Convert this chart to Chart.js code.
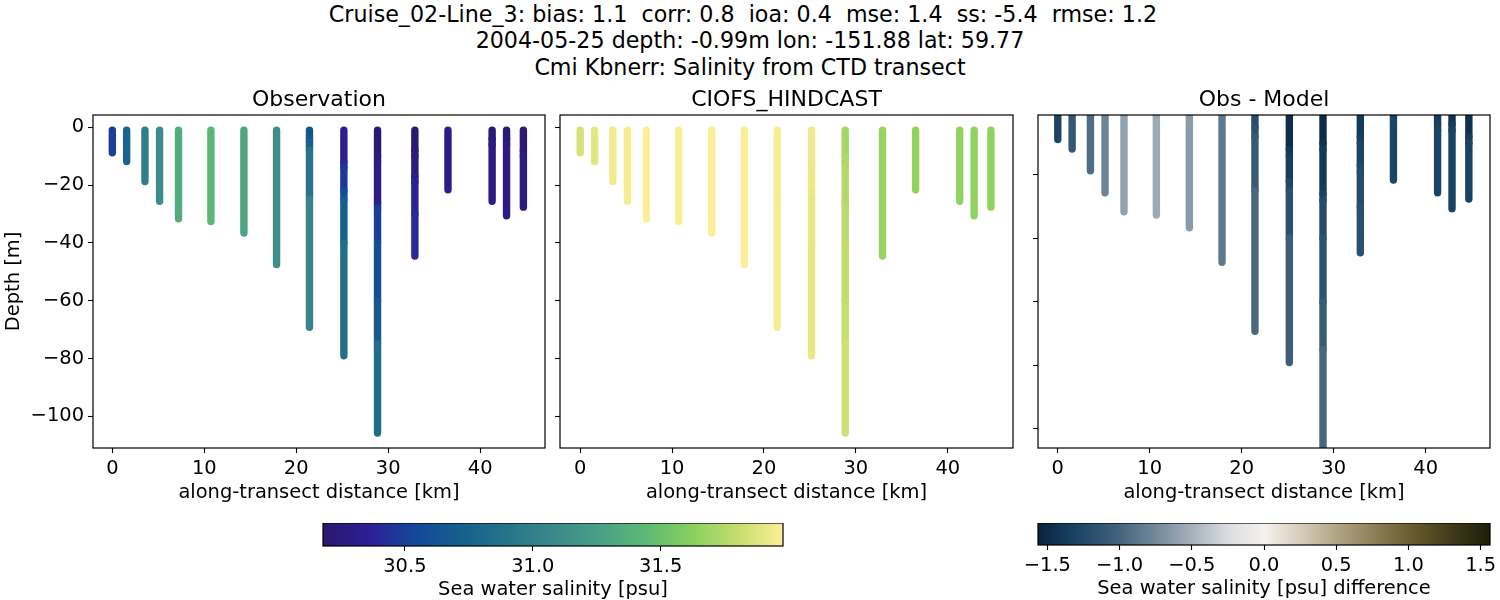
<!DOCTYPE html>
<html>
<head>
<meta charset="utf-8">
<script src="https://cdn.jsdelivr.net/npm/chart.js@4"></script>
<style>
  html, body { margin: 0; padding: 0; background: #fff; width: 1500px; height: 600px; overflow: hidden; }
  canvas { position: absolute; }
  .sup { position: absolute; left: 0; width: 1500px; text-align: center; white-space: pre;
         font: 22.2px "DejaVu Sans"; color: #000; line-height: 27px; }
</style>
</head>
<body>
<div class="sup" style="top:1px">Cruise_02-Line_3: bias: 1.1  corr: 0.8  ioa: 0.4  mse: 1.4  ss: -5.4  rmse: 1.2  </div>
<div class="sup" style="top:27px">2004-05-25 depth: -0.99m lon: -151.88 lat: 59.77</div>
<div class="sup" style="top:54px">Cmi Kbnerr: Salinity from CTD transect</div>
<canvas id="obsChart"></canvas>
<canvas id="modelChart"></canvas>
<canvas id="diffChart"></canvas>
<canvas id="salBar"></canvas>
<canvas id="diffBar"></canvas>
<script>
// along-transect position of each CTD cast [km]
var castKm = [0, 1.56, 3.55, 5.14, 7.2, 10.72, 14.31, 17.86, 21.44, 25.18, 28.84, 32.9, 36.5, 41.3, 42.87, 44.7];

var castDepths = [
    [-1, -8.8],
    [-1, -11.8],
    [-1, -18.7],
    [-1, -25.6],
    [-1, -31.6],
    [-1, -32.6],
    [-1, -36.6],
    [-1, -47.5],
    [-1, -5, -8, -25, -69.2],
    [-1, -12, -14, -22, -25, -40, -79.1],
    [-1, -10, -12, -26, -28, -40, -60, -75, -105.8],
    [-1, -8, -10, -17, -19, -30, -44.5],
    [-1, -21.6],
    [-1, -4, -6, -25.6],
    [-1, -4, -6, -30.6],
    [-1, -8, -10, -27.6]
];

var obsSalinity = [
    [30.48, 30.52],
    [30.74, 30.8],
    [30.97, 31.0],
    [31.08, 31.12],
    [31.34, 31.36],
    [31.42, 31.43],
    [31.29, 31.3],
    [31.12, 31.12],
    [30.62, 30.68, 30.8, 31.0, 31.08],
    [30.33, 30.33, 30.47, 30.47, 30.66, 30.78, 30.93],
    [30.2, 30.2, 30.28, 30.28, 30.42, 30.56, 30.62, 30.74, 30.92],
    [30.2, 30.2, 30.27, 30.27, 30.37, 30.38, 30.44],
    [30.28, 30.3],
    [30.2, 30.2, 30.28, 30.28],
    [30.2, 30.2, 30.26, 30.27],
    [30.22, 30.22, 30.27, 30.28]
];

var modelSalinity = [
    [31.85, 31.85],
    [31.89, 31.89],
    [31.94, 31.94],
    [31.95, 31.95],
    [31.97, 31.97],
    [31.97, 31.97],
    [31.97, 31.97],
    [31.97, 31.97],
    [31.96, 31.96, 31.96, 31.96, 31.95],
    [31.93, 31.93, 31.92, 31.92, 31.91, 31.91, 31.9],
    [31.7, 31.72, 31.73, 31.76, 31.76, 31.78, 31.8, 31.81, 31.84],
    [31.66, 31.66, 31.66, 31.66, 31.66, 31.66, 31.66],
    [31.65, 31.65],
    [31.65, 31.65, 31.65, 31.65],
    [31.65, 31.65, 31.65, 31.65],
    [31.65, 31.65, 31.65, 31.65]
];

var diffSalinity = [
    [-1.32, -1.28],
    [-1.12, -1.08],
    [-0.96, -0.92],
    [-0.8, -0.76],
    [-0.62, -0.58],
    [-0.55, -0.54],
    [-0.66, -0.62],
    [-0.88, -0.84],
    [-1.22, -1.2, -1.15, -1.02, -0.92],
    [-1.52, -1.45, -1.38, -1.32, -1.24, -1.1, -0.98],
    [-1.52, -1.48, -1.42, -1.36, -1.26, -1.2, -1.12, -1.05, -0.9],
    [-1.4, -1.36, -1.32, -1.28, -1.24, -1.2, -1.14],
    [-1.32, -1.28],
    [-1.38, -1.34, -1.32, -1.3],
    [-1.52, -1.4, -1.34, -1.3],
    [-1.5, -1.42, -1.34, -1.3]
];

var kmTicks = [0, 10, 20, 30, 40];
var depthTicks = [0, -20, -40, -60, -80, -100];
var diffDepthTicks = [-20, -40, -60, -80, -100];
var salTicks = [30.5, 31.0, 31.5];
var diffTicks = [-1.5, -1.0, -0.5, 0.0, 0.5, 1.0, 1.5];

// colormap stops sampled from the colorbars
var halineStops = ['#2a186c', '#2e1e96', '#14489a', '#155f8c', '#27748a', '#3b888a', '#4a9f86', '#5eb875', '#86d05f', '#c5dd6c', '#fdef9a'];
var diffStops = ['#0a2240', '#1a4465', '#3d5e78', '#6c8497', '#a2adb8', '#d8dbdf', '#f5f2ee', '#d5cbb9', '#aea283', '#8a7c55', '#655a2a', '#403a1a', '#1c2008'];

var FONT = { family: '"DejaVu Sans"', size: 19.44 };
var FONT_TITLE = { family: '"DejaVu Sans"', size: 22, weight: 'normal', lineHeight: 1 };

Chart.defaults.font.family = FONT.family;
Chart.defaults.color = '#000';

function hexToRgb(hex) {
    return [1, 3, 5].map(i => parseInt(hex.substr(i, 2), 16));
}

// linear lookup in a list of evenly spaced colour stops
function colorAt(stops, vmin, vmax, v) {
    var t = Math.min(1, Math.max(0, (v - vmin) / (vmax - vmin))) * (stops.length - 1);
    var i = Math.min(stops.length - 2, Math.floor(t));
    var a = hexToRgb(stops[i]), b = hexToRgb(stops[i + 1]);
    var f = t - i;
    return 'rgb(' + a.map((c, k) => Math.round(c + (b[k] - c) * f)).join(',') + ')';
}

function minusSign(v) {
    return String(v).replace('-', '\u2212');
}

// black box around the plot area, like a matplotlib frame
var frame = {
    id: 'frame',
    afterDraw(chart) {
        var a = chart.chartArea, c = chart.ctx;
        c.save();
        c.strokeStyle = '#000';
        c.lineWidth = 1.2;
        c.strokeRect(a.left, a.top, a.right - a.left, a.bottom - a.top);
        c.restore();
    }
};

function place(id, left, top, width, height) {
    var el = document.getElementById(id);
    el.width = width;
    el.height = height;
    el.style.left = left + 'px';
    el.style.top = top + 'px';
    return el;
}

function castDatasets(values, stops, vmin, vmax) {
    return castKm.map((km, i) => ({
        data: castDepths[i].map(d => ({ x: km, y: d })),
        borderWidth: 7.4,
        borderCapStyle: 'round',
        borderColor: colorAt(stops, vmin, vmax, values[i][0]),
        pointRadius: 0,
        clip: 0,
        segment: {
            borderColor: ctx => colorAt(stops, vmin, vmax, (values[i][ctx.p0DataIndex] + values[i][ctx.p1DataIndex]) / 2)
        }
    }));
}

var LEFT_PAD = 93, TOP_PAD = 28, BOTTOM_PAD = 57, RIGHT_PAD = 8;

function panel(id, box, title, datasets, opts) {
    var el = place(id, box.left - LEFT_PAD, box.top - TOP_PAD, box.right - box.left + LEFT_PAD + RIGHT_PAD, box.bottom - box.top + TOP_PAD + BOTTOM_PAD);
    return new Chart(el, {
        type: 'line',
        data: { datasets: datasets },
        plugins: [frame],
        options: {
            responsive: false,
            animation: false,
            layout: { padding: { right: RIGHT_PAD } },
            plugins: {
                legend: { display: false },
                tooltip: { enabled: false },
                // fullSize off so the title centres over the plot, not the canvas
                title: { display: true, fullSize: false, text: title, font: FONT_TITLE, color: '#000', padding: { top: 2.5, bottom: 3.5 } }
            },
            scales: {
                x: {
                    type: 'linear',
                    min: opts.xmin,
                    max: opts.xmax,
                    afterBuildTicks: axis => { axis.ticks = kmTicks.map(v => ({ value: v })); },
                    afterFit: axis => { axis.height = BOTTOM_PAD; },
                    border: { display: false },
                    grid: { drawOnChartArea: false, tickLength: 5, tickColor: '#000', tickWidth: 1.1 },
                    ticks: { font: FONT, color: '#000', padding: 4, maxRotation: 0, autoSkip: false, callback: v => minusSign(v) },
                    title: { display: true, text: 'along-transect distance [km]', font: FONT, color: '#000', padding: 0 }
                },
                y: {
                    min: opts.ymin,
                    max: opts.ymax,
                    afterBuildTicks: axis => { axis.ticks = opts.yticks.map(v => ({ value: v })); },
                    afterFit: axis => { axis.width = LEFT_PAD; },
                    border: { display: false },
                    grid: { drawOnChartArea: false, tickLength: 5, tickColor: '#000', tickWidth: 1.1 },
                    ticks: { font: FONT, color: '#000', padding: 4, autoSkip: false, callback: v => opts.ylabels ? minusSign(v) : '' },
                    title: { display: !!opts.ylabels, text: 'Depth [m]', font: FONT, color: '#000', padding: { top: 2, bottom: 0 } }
                }
            }
        }
    });
}

var SAL_MIN = 30.18, SAL_MAX = 31.978;
var DIFF_MIN = -1.565, DIFF_MAX = 1.565;

panel('obsChart', { left: 93, top: 115, right: 545, bottom: 448 }, 'Observation',
    castDatasets(obsSalinity, halineStops, SAL_MIN, SAL_MAX),
    { xmin: -2.1, xmax: 47.05, ymin: -111, ymax: 4.3, yticks: depthTicks, ylabels: true });
panel('modelChart', { left: 559.5, top: 115, right: 1012.5, bottom: 448 }, 'CIOFS_HINDCAST',
    castDatasets(modelSalinity, halineStops, SAL_MIN, SAL_MAX),
    { xmin: -2.2, xmax: 47.1, ymin: -111, ymax: 4.3, yticks: depthTicks, ylabels: false });
panel('diffChart', { left: 1037.5, top: 115, right: 1489.5, bottom: 448 }, 'Obs - Model',
    castDatasets(diffSalinity, diffStops, DIFF_MIN, DIFF_MAX),
    { xmin: -2.15, xmax: 47.0, ymin: -106, ymax: -1.1, yticks: diffDepthTicks, ylabels: false });

function colorbar(id, box, label, stops, vmin, vmax, ticks) {
    var pad = 40;
    var el = place(id, box.left - pad, box.top, box.right - box.left + 2 * pad, box.end - box.top);
    return new Chart(el, {
        type: 'bar',
        data: {
            labels: [''],
            datasets: [{
                data: [[vmin, vmax]],
                barPercentage: 1,
                categoryPercentage: 1,
                backgroundColor: ctx => {
                    var a = ctx.chart.chartArea;
                    if (!a) return stops[0];
                    var g = ctx.chart.ctx.createLinearGradient(a.left, 0, a.right, 0);
                    stops.forEach((s, i) => g.addColorStop(i / (stops.length - 1), s));
                    return g;
                }
            }]
        },
        plugins: [frame],
        options: {
            indexAxis: 'y',
            responsive: false,
            animation: false,
            layout: { padding: { left: pad, right: pad } },
            plugins: { legend: { display: false }, tooltip: { enabled: false } },
            scales: {
                x: {
                    type: 'linear',
                    min: vmin,
                    max: vmax,
                    afterBuildTicks: axis => { axis.ticks = ticks.map(v => ({ value: v })); },
                    afterFit: axis => { axis.height = box.end - box.bottom; },
                    border: { display: false },
                    grid: { drawOnChartArea: false, tickLength: 5, tickColor: '#000', tickWidth: 1.1 },
                    ticks: { font: FONT, color: '#000', padding: 4, maxRotation: 0, autoSkip: false, callback: v => minusSign(v.toFixed(1)) },
                    title: { display: true, text: label, font: FONT, color: '#000', padding: 0 }
                },
                y: { display: false }
            }
        }
    });
}

colorbar('salBar', { left: 322.5, top: 522.5, right: 782.5, bottom: 545.5, end: 601.5 }, 'Sea water salinity [psu]', halineStops, SAL_MIN, SAL_MAX, salTicks);
colorbar('diffBar', { left: 1037.5, top: 522.5, right: 1489.5, bottom: 544.5, end: 600.5 }, 'Sea water salinity [psu] difference', diffStops, DIFF_MIN, DIFF_MAX, diffTicks);
</script>
</body>
</html>
